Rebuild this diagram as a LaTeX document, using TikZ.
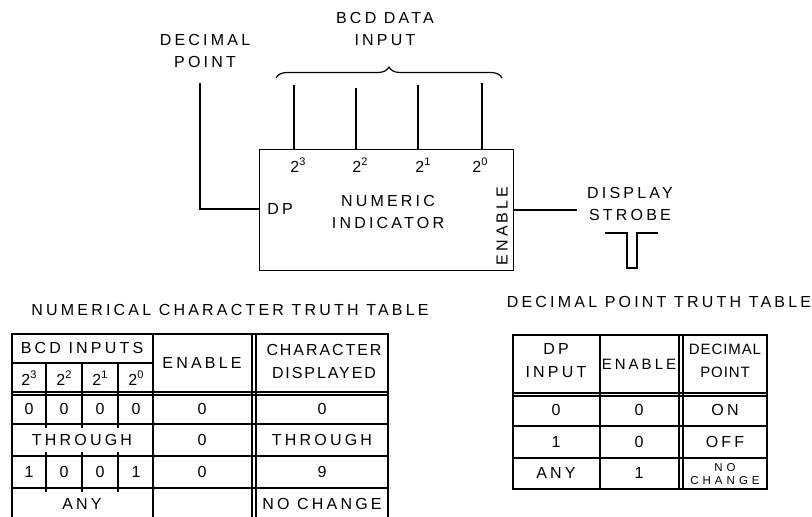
\documentclass[tikz,border=0pt]{standalone}
\usepackage{fontspec}
\usetikzlibrary{decorations.pathreplacing}
\newfontfamily\lettering{Liberation Sans}[LetterSpace=20]
\newfontfamily\letteringmid{Liberation Sans}[LetterSpace=12]
\newfontfamily\letteringtight{Liberation Sans}[LetterSpace=6]
\newfontfamily\letteringwide{Liberation Sans}[LetterSpace=35]
\newcommand{\twoto}[1]{2\raisebox{0.45em}{\fontsize{11}{11}\selectfont #1}}

\begin{document}
\begin{tikzpicture}[
  x=1pt, y=-1pt, line width=1.2pt,
  lbl/.style={font=\lettering\fontsize{16}{22}\selectfont, inner sep=0pt, align=center},
  cell/.style={font=\lettering\fontsize{16}{23}\selectfont, inner sep=0pt, align=center},
  tiny/.style={font=\letteringwide\fontsize{11.5}{12.5}\selectfont, inner sep=0pt, align=center},
  unit/.style={draw, rectangle, inner sep=0pt, minimum width=254pt, minimum height=121pt, anchor=north west}
]
  \useasboundingbox (0,0) rectangle (812,517);

  % indicator block and its connections
  \node[unit] (ind) at (259,149) {};
  \node[lbl] (dp)   at (280,209) {DP};
  \node[lbl] (name) at (388,212) {NUMERIC\\INDICATOR};
  \node[lbl, rotate=90] (en) at (502,226) {ENABLE};

  \node[lbl] (bcd)  at (385,29) {BCD DATA\\INPUT};
  \node[lbl] (dpin) at (205,51) {DECIMAL\\POINT};
  \node[lbl] (strb) at (630,204) {DISPLAY\\STROBE};

  \foreach \x/\p/\t/\lx in {294/3/85/298, 356/2/88/360, 418/1/85/423, 482/0/83/480} {
    \coordinate (in\p) at (\x,\t);
    \draw (in\p) -- (in\p |- ind.north);
    \node[lbl] (pin\p) at (\lx,165) {\twoto{\p}};
  }
  \coordinate (brl) at (276,78);
  \coordinate (brr) at (502,78);
  \draw[decorate, decoration={brace, amplitude=11pt}] (brl) -- (brr);

  \coordinate (dptop) at (200,83);
  \draw (dptop) |- (ind.west |- dp);
  \coordinate (strend) at (577,210);
  \draw (ind.east |- strend) -- (strend);

  \coordinate (pulse) at (605,233);
  \draw (pulse) -- ++(22,0) -- ++(0,35) -- ++(10,0) -- ++(0,-35) -- ++(21,0);

  % numerical character truth table
  \node[lbl] (ttl1) at (230,310) {NUMERICAL CHARACTER TRUTH TABLE};
  \draw (12,517) -- (12,334) -- (388,334) -- (388,517);
  \foreach \x in {153,252,256} \draw (\x,334) -- (\x,517);
  \draw (12,363) -- (153,363);
  \foreach \y in {392,395,424,456,488} \draw (12,\y) -- (388,\y);
  \foreach \x in {46,82,118} {
    \draw (\x,363) -- (\x,428);
    \draw (\x,452) -- (\x,492);
  }
  \node[cell] (bcdh) at (82,348) {BCD INPUTS};
  \foreach \x/\p in {29/3, 64/2, 100/1, 136/0}
    \node[cell] (h\p) at (\x,378) {\twoto{\p}};
  \node[cell] (enh) at (202,363) {ENABLE};
  \node[cell, font=\letteringmid\fontsize{16}{23}\selectfont] (chh) at (324,361) {CHARACTER\\DISPLAYED};

  \foreach \x/\a/\b in {29/0/1, 64/0/0, 100/0/0, 136/0/1} {
    \node[cell] at (\x,409) {\a};
    \node[cell] at (\x,472) {\b};
  }
  \node[cell] (thr) at (82,440) {THROUGH};
  \node[cell] (any) at (82,504) {ANY};
  \foreach \y in {409,440,472} \node[cell] at (202,\y) {0};
  \node[cell] (c1) at (322,409) {0};
  \node[cell] (c2) at (322,440) {THROUGH};
  \node[cell] (c3) at (322,472) {9};
  \node[cell] (c4) at (322,504) {NO CHANGE};

  % decimal point truth table
  \node[lbl] (ttl2) at (659,302) {DECIMAL POINT TRUTH TABLE};
  \draw (513,335) rectangle (767,489);
  \foreach \x in {600,679,683} \draw (\x,335) -- (\x,489);
  \foreach \y in {393,396,426,458} \draw (513,\y) -- (767,\y);
  \node[cell] (dph) at (556,361) {DP\\INPUT};
  \node[cell, font=\lettering\fontsize{15}{23}\selectfont] (enh2) at (639,364) {ENABLE};
  \node[cell, font=\letteringtight\fontsize{15}{23}\selectfont] (dch) at (725,361) {DECIMAL\\POINT};
  \node[cell] at (556,410) {0};
  \node[cell] at (556,442) {1};
  \node[cell] at (556,473) {ANY};
  \node[cell] at (639,410) {0};
  \node[cell] at (639,442) {0};
  \node[cell] at (639,473) {1};
  \node[cell] at (725,410) {ON};
  \node[cell] at (725,442) {OFF};
  \node[tiny] (nc) at (725,474) {NO\\CHANGE};
\end{tikzpicture}
\end{document}
